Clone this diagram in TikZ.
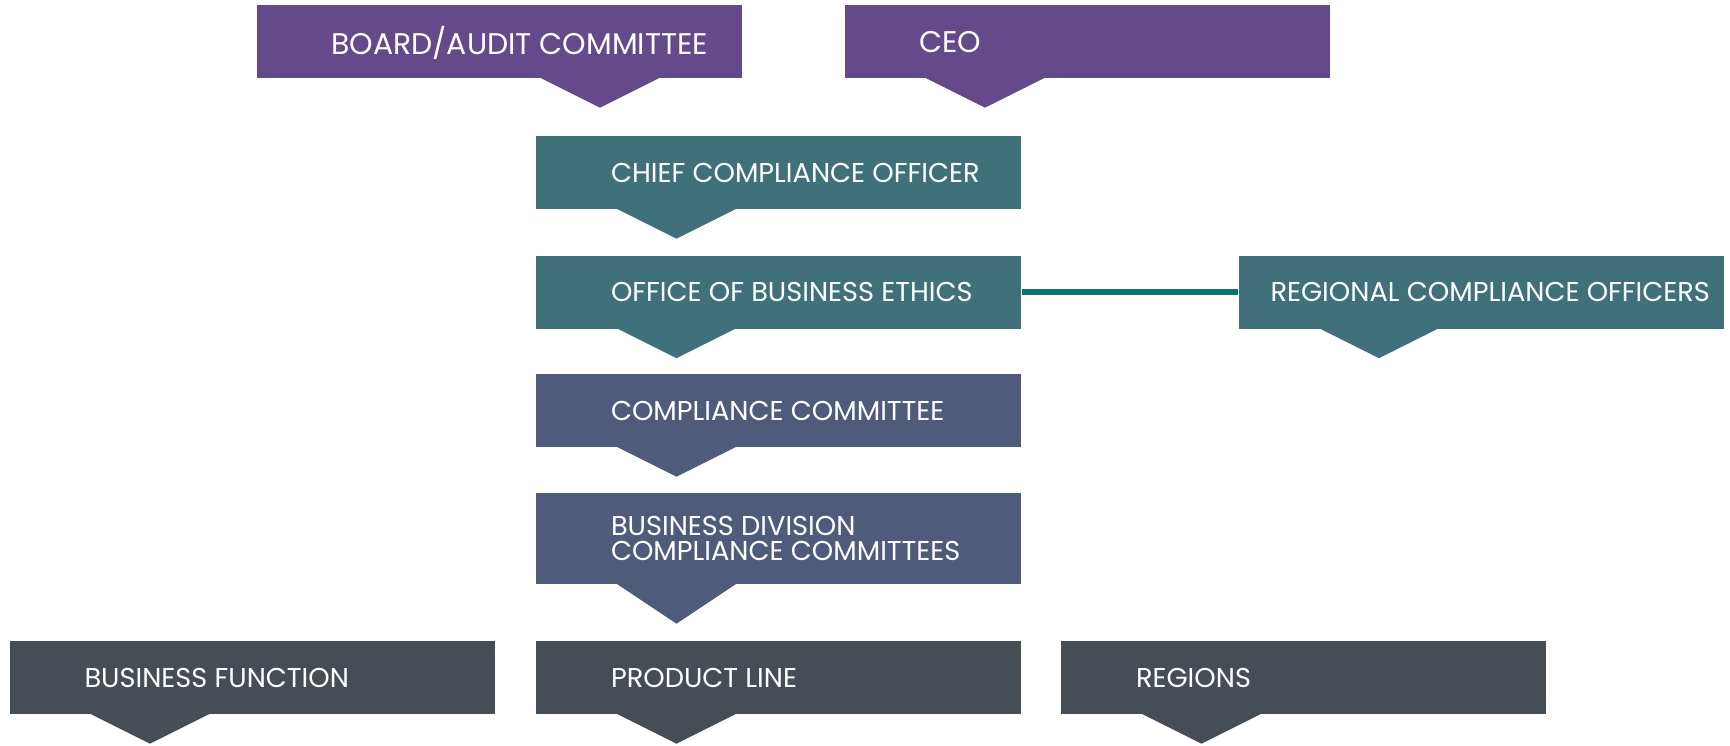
\documentclass[tikz,border=0pt]{standalone}
\usepackage{fontspec}
\setmainfont{Poppins}
\definecolor{boardpurple}{HTML}{644A8B}
\definecolor{ethicsteal}{HTML}{40717A}
\definecolor{committeeblue}{HTML}{4F5B7B}
\definecolor{linegray}{HTML}{474D54}
\definecolor{linkteal}{HTML}{0B7470}

\begin{document}
\begin{tikzpicture}
\tikzstyle{unit} = [rectangle, minimum width=4.85cm, minimum height=0.73cm, inner sep=0pt]
\tikzstyle{tag} = [anchor=west, text=white, font=\fontsize{7.75}{7.1}\selectfont, align=left, inner sep=0pt]
\tikzstyle{toptag} = [tag, font=\fontsize{8.5}{8}\selectfont]
\tikzstyle{link} = [draw=linkteal, line width=1.6pt]

\useasboundingbox (0,0) rectangle (17.30,-7.45);

\node[unit, fill=boardpurple] (board) at (4.99,-0.415) {};
\node[unit, fill=boardpurple] (ceo) at (10.87,-0.415) {};
\node[unit, fill=ethicsteal] (cco) at (7.785,-1.725) {};
\node[unit, fill=ethicsteal] (obe) at (7.785,-2.92) {};
\node[unit, fill=ethicsteal] (rco) at (14.81,-2.92) {};
\node[unit, fill=committeeblue] (cc) at (7.785,-4.105) {};
\node[unit, fill=committeeblue, minimum height=0.91cm] (bdcc) at (7.785,-5.385) {};
\node[unit, fill=linegray] (bf) at (2.52,-6.775) {};
\node[unit, fill=linegray] (pl) at (7.785,-6.775) {};
\node[unit, fill=linegray] (reg) at (13.035,-6.775) {};

% pointers under the boxes
\foreach \n/\c/\dx/\deep in {board/boardpurple/0.41/0.30, ceo/boardpurple/-1.62/0.30,
  cco/ethicsteal/-1.62/0.30, obe/ethicsteal/-1.62/0.30, rco/ethicsteal/-1.62/0.30,
  cc/committeeblue/-1.62/0.30, bdcc/committeeblue/-1.62/0.40,
  bf/linegray/-1.62/0.30, pl/linegray/-1.62/0.30, reg/linegray/-1.62/0.30}
  \fill[\c] ([xshift=\dx cm, yshift=0.01cm]\n.south) -- ++(1.2,0) -- ++(-0.6,-\deep) -- cycle;

\draw[link] (obe) -- (rco);

\node[toptag] (board-t) at ([xshift=0.75cm, yshift=-0.01cm]board.west) {BOARD/AUDIT COMMITTEE};
\node[toptag] (ceo-t) at ([xshift=0.75cm, yshift=-0.01cm]ceo.west) {CEO};
\node[tag] (cco-t) at ([xshift=0.75cm]cco.west) {CHIEF COMPLIANCE OFFICER};
\node[tag] (obe-t) at ([xshift=0.75cm]obe.west) {OFFICE OF BUSINESS ETHICS};
\node[tag] (rco-t) at ([xshift=0.32cm]rco.west) {REGIONAL COMPLIANCE OFFICERS};
\node[tag] (cc-t) at ([xshift=0.75cm]cc.west) {COMPLIANCE COMMITTEE};
\node[tag] (bdcc-t) at ([xshift=0.75cm]bdcc.west) {BUSINESS DIVISION\\COMPLIANCE COMMITTEES};
\node[tag] (bf-t) at ([xshift=0.75cm]bf.west) {BUSINESS FUNCTION};
\node[tag] (pl-t) at ([xshift=0.75cm]pl.west) {PRODUCT LINE};
\node[tag] (reg-t) at ([xshift=0.75cm]reg.west) {REGIONS};
\end{tikzpicture}
\end{document}
